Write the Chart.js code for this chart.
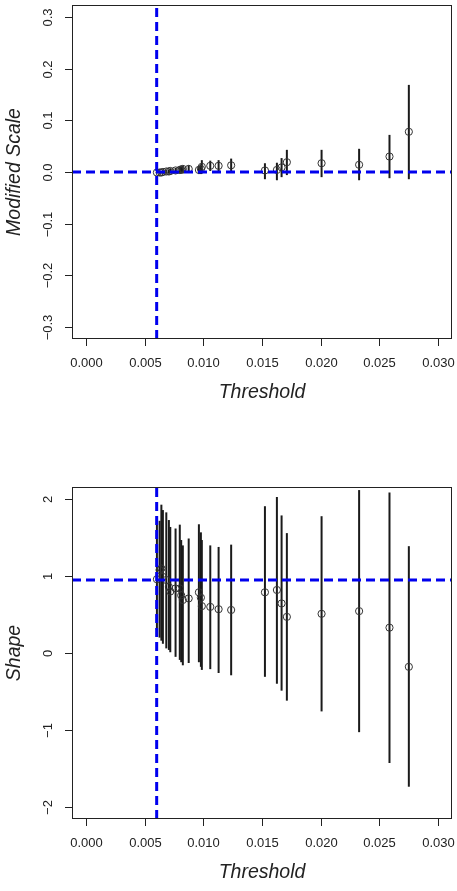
<!DOCTYPE html>
<html>
<head>
<meta charset="utf-8">
<script src="https://cdn.jsdelivr.net/npm/chart.js@4/dist/chart.umd.min.js"></script>
<style>
  body { margin: 0; background: #fff; }
  .box { position: relative; width: 457px; }
  canvas { display: block; }
</style>
</head>
<body>
<div class="box" style="height:445px"><canvas id="scaleChart"></canvas></div>
<div class="box" style="height:446px"><canvas id="shapeChart"></canvas></div>
<script>
// thresholds (x) shared by both panels
const thresholds = [0.00604, 0.00627, 0.00642, 0.00655, 0.00684, 0.00706, 0.00718, 0.00763,
    0.00799, 0.00811, 0.00825, 0.00875, 0.00962, 0.00979, 0.00987, 0.01059, 0.01130, 0.01237,
    0.01525, 0.01627, 0.01667, 0.01712, 0.02008, 0.02328, 0.02587, 0.02752];

// modified scale estimate + interval
const scaleEst = [-0.001, -0.001, -0.001, 0.000, 0.001, 0.001, 0.002, 0.003,
    0.004, 0.005, 0.006, 0.006, 0.004, 0.006, 0.010, 0.012, 0.012, 0.013,
    0.003, 0.004, 0.009, 0.019, 0.017, 0.014, 0.030, 0.078];
const scaleLo = [-0.002, -0.003, -0.003, -0.003, -0.003, -0.003, -0.003, -0.003,
    -0.003, -0.003, -0.003, -0.002, -0.004, -0.004, -0.003, 0.002, 0.001, 0.000,
    -0.014, -0.016, -0.010, -0.006, -0.010, -0.016, -0.012, -0.014];
const scaleHi = [0.001, 0.001, 0.002, 0.003, 0.004, 0.005, 0.006, 0.008,
    0.010, 0.011, 0.012, 0.013, 0.012, 0.015, 0.023, 0.022, 0.023, 0.026,
    0.017, 0.018, 0.027, 0.043, 0.043, 0.045, 0.072, 0.169];

// shape estimate + interval
const shapeEst = [0.96, 1.08, 1.10, 0.99, 0.95, 0.86, 0.80, 0.84,
    0.84, 0.75, 0.69, 0.71, 0.79, 0.72, 0.61, 0.60, 0.57, 0.56,
    0.79, 0.82, 0.645, 0.47, 0.51, 0.545, 0.33, -0.18];
const shapeLo = [0.30, 0.20, 0.16, 0.12, 0.06, 0.04, 0.01, -0.05,
    -0.09, -0.12, -0.16, -0.13, -0.12, -0.18, -0.22, -0.21, -0.26, -0.29,
    -0.31, -0.40, -0.49, -0.62, -0.76, -1.03, -1.43, -1.74];
const shapeHi = [1.75, 1.72, 1.93, 1.86, 1.83, 1.73, 1.64, 1.62,
    1.67, 1.47, 1.40, 1.49, 1.675, 1.57, 1.47, 1.40, 1.38, 1.41,
    1.91, 2.03, 1.79, 1.56, 1.78, 2.12, 2.09, 1.39];

const xTicks = [0, 0.005, 0.01, 0.015, 0.02, 0.025, 0.03];
const xTickLabels = ['0.000', '0.005', '0.010', '0.015', '0.020', '0.025', '0.030'];
const scaleTicks = [-0.3, -0.2, -0.1, 0, 0.1, 0.2, 0.3];
const scaleTickLabels = ['\u22120.3', '\u22120.2', '\u22120.1', '0.0', '0.1', '0.2', '0.3'];
const shapeTicks = [-2, -1, 0, 1, 2];
const shapeTickLabels = ['\u22122', '\u22121', '0', '1', '2'];

const chosenThreshold = 0.00602;
const scaleRef = 0;
const shapeRef = 0.95;

const FONT = '"Liberation Sans", Arial, sans-serif';

// R-like frame, ticks, labels, error bars and reference lines
const rStyle = {
  id: 'rStyle',
  beforeDatasetsDraw(chart, args, opts) {
    const ctx = chart.ctx;
    const xs = chart.scales.x, ys = chart.scales.y;
    const area = chart.chartArea;
    ctx.save();
    ctx.strokeStyle = '#1a1a1a';
    ctx.lineWidth = 2;
    thresholds.forEach((t, i) => {
      const px = xs.getPixelForValue(t);
      ctx.beginPath();
      ctx.moveTo(px, ys.getPixelForValue(opts.lo[i]));
      ctx.lineTo(px, ys.getPixelForValue(opts.hi[i]));
      ctx.stroke();
    });
    ctx.restore();
  },
  afterDatasetsDraw(chart, args, opts) {
    const ctx = chart.ctx;
    const xs = chart.scales.x, ys = chart.scales.y;
    const a = chart.chartArea;
    ctx.save();
    // reference lines
    ctx.beginPath();
    ctx.rect(a.left, a.top, a.right - a.left, a.bottom - a.top);
    ctx.clip();
    ctx.strokeStyle = '#0000ee';
    ctx.lineWidth = 3;
    ctx.setLineDash([9, 5]);
    const vx = xs.getPixelForValue(chosenThreshold);
    ctx.beginPath();
    ctx.moveTo(vx, a.bottom);
    ctx.lineTo(vx, a.top);
    ctx.stroke();
    const hy = ys.getPixelForValue(opts.ref);
    ctx.beginPath();
    ctx.moveTo(a.left, hy);
    ctx.lineTo(a.right, hy);
    ctx.stroke();
    ctx.restore();

    ctx.save();
    ctx.strokeStyle = '#222';
    ctx.lineWidth = 1;
    ctx.strokeRect(a.left + 0.5, a.top + 0.5, a.right - a.left - 1, a.bottom - a.top - 1);
    ctx.fillStyle = '#222';
    ctx.font = '13px ' + FONT;
    // x axis
    ctx.textAlign = 'center';
    ctx.textBaseline = 'middle';
    xs.ticks.forEach((tk, i) => {
      const px = Math.round(xs.getPixelForValue(tk.value)) + 0.5;
      ctx.beginPath();
      ctx.moveTo(px, a.bottom);
      ctx.lineTo(px, a.bottom + 7);
      ctx.stroke();
      ctx.fillText(xTickLabels[i], px, a.bottom + 24);
    });
    // y axis
    ys.ticks.forEach((tk, i) => {
      const py = Math.round(ys.getPixelForValue(tk.value)) + 0.5;
      ctx.beginPath();
      ctx.moveTo(a.left, py);
      ctx.lineTo(a.left - 7, py);
      ctx.stroke();
      ctx.save();
      ctx.translate(a.left - 24, py);
      ctx.rotate(-Math.PI / 2);
      ctx.fillText(opts.tickLabels[i], 0, 0);
      ctx.restore();
    });
    // titles
    ctx.font = 'italic 19.5px ' + FONT;
    ctx.fillText('Threshold', (a.left + a.right) / 2, a.bottom + 54);
    ctx.save();
    ctx.translate(15, (a.top + a.bottom) / 2);
    ctx.rotate(-Math.PI / 2);
    ctx.fillText(opts.title, 0, 0);
    ctx.restore();
    ctx.restore();
  }
};

function makeChart(id, est, lo, hi, yMin, yMax, yTicks, yLabels, ref, title, pad) {
  const pts = thresholds.map((t, i) => ({ x: t, y: est[i] }));
  return new Chart(document.getElementById(id), {
    type: 'scatter',
    data: {
      datasets: [{
        data: pts,
        pointRadius: 3.6,
        pointBorderWidth: 1,
        pointBorderColor: '#333',
        pointBackgroundColor: 'rgba(0,0,0,0)',
        pointStyle: 'circle'
      }]
    },
    options: {
      responsive: true,
      maintainAspectRatio: false,
      animation: false,
      events: [],
      layout: { padding: pad },
      plugins: {
        legend: { display: false },
        tooltip: { enabled: false },
        rStyle: { lo: lo, hi: hi, ref: ref, tickLabels: yLabels, title: title }
      },
      scales: {
        x: {
          type: 'linear', display: false,
          min: -0.0012, max: 0.0312,
          afterBuildTicks: s => { s.ticks = xTicks.map(v => ({ value: v })); }
        },
        y: {
          type: 'linear', display: false,
          min: yMin, max: yMax,
          afterBuildTicks: s => { s.ticks = yTicks.map(v => ({ value: v })); }
        }
      }
    },
    plugins: [rStyle]
  });
}

makeChart('scaleChart', scaleEst, scaleLo, scaleHi, -0.324, 0.324,
  scaleTicks, scaleTickLabels, scaleRef, 'Modified Scale',
  { left: 72, right: 2, top: 5, bottom: 106 });
makeChart('shapeChart', shapeEst, shapeLo, shapeHi, -2.16, 2.16,
  shapeTicks, shapeTickLabels, shapeRef, 'Shape',
  { left: 72, right: 2, top: 42, bottom: 72 });
</script>
</body>
</html>
